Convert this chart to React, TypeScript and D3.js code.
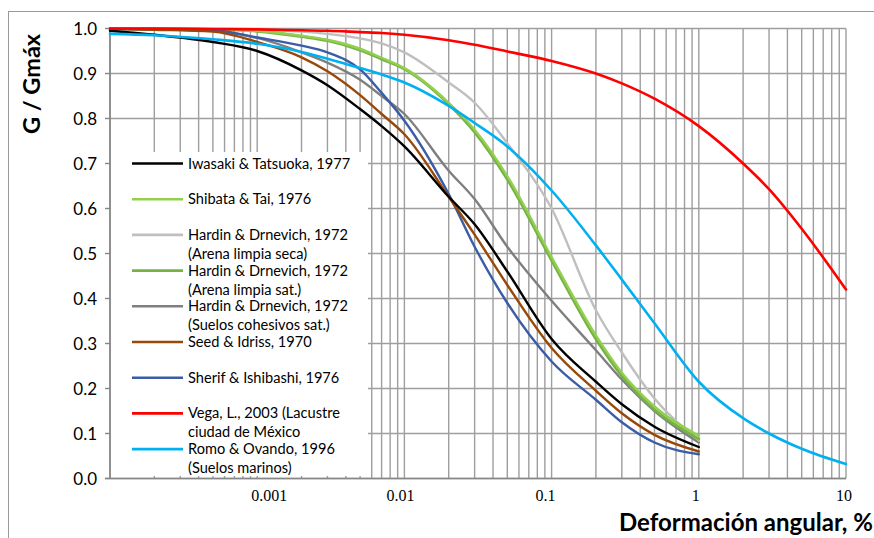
import React from "react";
import * as d3 from "d3";

// Shear strain (%) at which each curve is sampled
const strainsShort = [1e-4, 2e-4, 5e-4, 1e-3, 2e-3, 3e-3, 5e-3, 7e-3, 1e-2, 2e-2, 3e-2, 5e-2, 0.1, 0.2, 0.3, 0.5, 1];
const strainsLong = [1e-4, 2e-4, 5e-4, 1e-3, 2e-3, 3e-3, 5e-3, 7e-3, 1e-2, 2e-2, 3e-2, 5e-2, 0.1, 0.2, 0.3, 0.5, 1, 2, 3, 5, 10];

// G / Gmax values for each curve
const iwasaki = [0.995, 0.986, 0.97, 0.95, 0.907, 0.874, 0.821, 0.783, 0.738, 0.626, 0.565, 0.46, 0.31, 0.215, 0.165, 0.115, 0.07];
const shibata = [1.0, 0.999, 0.998, 0.995, 0.984, 0.975, 0.955, 0.935, 0.912, 0.835, 0.775, 0.672, 0.492, 0.318, 0.235, 0.16, 0.095];
const hardinSeca = [1.0, 1.0, 0.999, 0.997, 0.993, 0.988, 0.978, 0.967, 0.947, 0.88, 0.835, 0.745, 0.6, 0.374, 0.28, 0.178, 0.085];
const hardinSat = [1.0, 0.999, 0.998, 0.994, 0.982, 0.973, 0.952, 0.932, 0.91, 0.832, 0.77, 0.665, 0.485, 0.31, 0.228, 0.153, 0.088];
const hardinCohesivos = [0.999, 0.998, 0.995, 0.979, 0.947, 0.924, 0.886, 0.85, 0.81, 0.684, 0.621, 0.515, 0.395, 0.285, 0.22, 0.15, 0.08];
const seedIdriss = [0.999, 0.997, 0.993, 0.97, 0.936, 0.905, 0.852, 0.81, 0.765, 0.626, 0.542, 0.43, 0.29, 0.195, 0.145, 0.097, 0.06];
const sherif = [0.999, 0.998, 0.996, 0.98, 0.962, 0.947, 0.909, 0.857, 0.795, 0.632, 0.515, 0.39, 0.26, 0.175, 0.125, 0.08, 0.054];
const vega = [1.0, 1.0, 0.999, 0.998, 0.996, 0.995, 0.992, 0.99, 0.986, 0.974, 0.964, 0.949, 0.928, 0.9, 0.878, 0.844, 0.783, 0.7, 0.643, 0.555, 0.42];
const romo = [0.988, 0.985, 0.976, 0.966, 0.948, 0.933, 0.912, 0.898, 0.88, 0.828, 0.79, 0.738, 0.64, 0.518, 0.442, 0.345, 0.215, 0.134, 0.1, 0.066, 0.032];

const seriesNames = [
  ["Iwasaki & Tatsuoka, 1977"],
  ["Shibata & Tai, 1976"],
  ["Hardin & Drnevich, 1972", "(Arena limpia seca)"],
  ["Hardin & Drnevich, 1972", "(Arena limpia sat.)"],
  ["Hardin & Drnevich, 1972", "(Suelos cohesivos sat.)"],
  ["Seed & Idriss, 1970"],
  ["Sherif & Ishibashi, 1976"],
  ["Vega, L., 2003 (Lacustre", "ciudad de México"],
  ["Romo & Ovando, 1996", "(Suelos marinos)"],
];
const seriesValues = [iwasaki, shibata, hardinSeca, hardinSat, hardinCohesivos, seedIdriss, sherif, vega, romo];
const seriesStrains = [strainsShort, strainsShort, strainsShort, strainsShort, strainsShort, strainsShort, strainsShort, strainsLong, strainsLong];
const seriesColors = ["#000000", "#92D050", "#BFBFBF", "#77B244", "#7F7F7F", "#984807", "#3A5DA6", "#FF0000", "#00B0F0"];
const seriesWidths = [2.4, 2.4, 2.4, 2.9, 2.4, 2.4, 2.4, 2.6, 2.6];

// Axis ticks
const yTicks = [0, 0.1, 0.2, 0.3, 0.4, 0.5, 0.6, 0.7, 0.8, 0.9, 1.0];
const xTickValues = [0.001, 0.01, 0.1, 1, 10];
const xTickLabels = ["0.001", "0.01", "0.1", "1", "10"];

const yTitle = "G / Gmáx";
const xTitle = "Deformación angular, %";

// Order in which curves are painted (later on top)
const drawOrder = [4, 2, 3, 1, 6, 5, 0, 8, 7];

export default function App() {
  const W = 874;
  const H = 538;
  const left = 110;
  const right = 846;
  const top = 28.5;
  const bottom = 478.5;

  const x = d3.scaleLog().domain([1e-4, 10]).range([left, right]);
  const y = d3.scaleLinear().domain([0, 1]).range([bottom, top]);

  // minor + major vertical grid values
  const vGrid: number[] = [];
  for (let e = -4; e <= 0; e++) {
    for (let k = 1; k <= 9; k++) vGrid.push(k * Math.pow(10, e));
  }
  vGrid.push(10);

  const line = d3
    .line<[number, number]>()
    .x((d) => x(d[0]))
    .y((d) => y(d[1]))
    .curve(d3.curveMonotoneX);

  const gridColor = "#9E9E9E";
  const axisColor = "#868686";

  // legend layout
  const legX = 111;
  const legY = 152;
  const legW = 257;
  const legH = 324;
  const legFirst = 163.5;
  const legStep = 35.7;
  const tickNudge = [12, -4, -6, -3, -2];

  return (
    <svg
      width={W}
      height={H}
      style={{ position: "absolute", left: 0, top: 0, background: "#fff" }}
    >
      <rect x={0} y={0} width={W} height={H} fill="#fff" />
      {/* chart frame */}
      <rect x={8.5} y={11.5} width={W + 20} height={H + 20} fill="none" stroke="#9A9A9A" strokeWidth={1} />

      {/* grid */}
      {yTicks.map((t) => (
        <line key={"h" + t} x1={left} x2={right} y1={y(t)} y2={y(t)} stroke={gridColor} strokeWidth={1.4} />
      ))}
      {vGrid.map((v, i) => (
        <line key={"v" + i} x1={x(v)} x2={x(v)} y1={top} y2={bottom} stroke={gridColor} strokeWidth={1.4} />
      ))}

      {/* axes */}
      <line x1={left} x2={left} y1={top} y2={bottom} stroke={axisColor} strokeWidth={1.6} />
      <line x1={left - 5} x2={right} y1={bottom} y2={bottom} stroke={axisColor} strokeWidth={1.6} />
      {yTicks.map((t) => (
        <line key={"yt" + t} x1={left - 5} x2={left} y1={y(t)} y2={y(t)} stroke={axisColor} strokeWidth={1.4} />
      ))}

      {/* y tick labels */}
      {yTicks.map((t) => (
        <text
          key={"yl" + t}
          x={97}
          y={y(t) + 6}
          textAnchor="end"
          fontFamily="Lato, 'Open Sans', sans-serif"
          fontSize={17}
          fill="#000"
        >
          {t.toFixed(1)}
        </text>
      ))}

      {/* x tick labels */}
      {xTickValues.map((v, i) => (
        <text
          key={"xl" + v}
          x={x(v) + tickNudge[i]}
          y={501}
          textAnchor="middle"
          fontFamily="'Liberation Serif', 'Times New Roman', serif"
          fontSize={16}
          fill="#000"
        >
          {xTickLabels[i]}
        </text>
      ))}

      {/* curves */}
      {drawOrder.map((s) => {
        const pts: [number, number][] = seriesValues[s].map((g, i) => [seriesStrains[s][i], g]);
        return (
          <path
            key={"c" + s}
            d={line(pts) || ""}
            fill="none"
            stroke={seriesColors[s]}
            strokeWidth={seriesWidths[s]}
            strokeLinejoin="round"
            strokeLinecap="round"
          />
        );
      })}

      {/* legend */}
      <rect x={legX} y={legY} width={legW} height={legH} fill="#fff" />
      {seriesNames.map((lines, i) => {
        const ly = legFirst + i * legStep;
        return (
          <g key={"lg" + i}>
            <line x1={132} x2={183} y1={ly} y2={ly} stroke={seriesColors[i]} strokeWidth={2.6} />
            {lines.map((txt, j) => (
              <text
                key={j}
                x={188}
                y={ly + 5 + j * 19}
                fontFamily="Lato, 'Open Sans', sans-serif"
                fontSize={14.6}
                fill="#000"
              >
                {txt}
              </text>
            ))}
          </g>
        );
      })}

      {/* axis titles */}
      <text
        transform={`translate(40, 84) rotate(-90)`}
        textAnchor="middle"
        fontFamily="Lato, 'Open Sans', sans-serif"
        fontWeight="bold"
        fontSize={23.5}
        fill="#000"
      >
        {yTitle}
      </text>
      <text
        x={873}
        y={531}
        textAnchor="end"
        fontFamily="Lato, 'Open Sans', sans-serif"
        fontWeight="bold"
        fontSize={24}
        fill="#000"
      >
        {xTitle}
      </text>
    </svg>
  );
}
